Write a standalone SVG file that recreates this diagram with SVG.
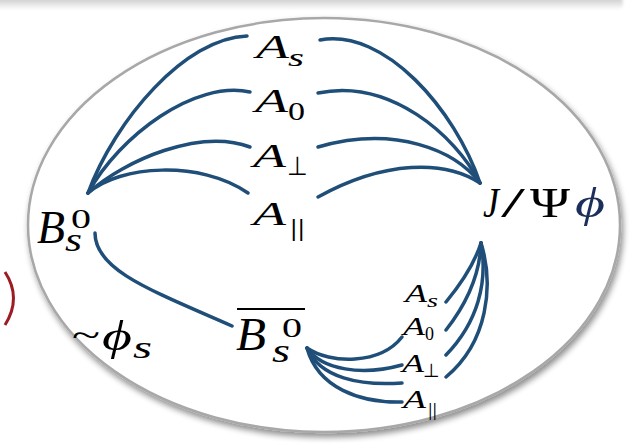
<svg xmlns="http://www.w3.org/2000/svg" width="631" height="443" viewBox="0 0 631 443">
<defs>
<style>
.c{fill:none;stroke:#1f4e79;stroke-width:3.5;stroke-linecap:round}
.m{font-family:"Liberation Serif",serif;fill:#000}
.i{font-style:italic}
</style>
<linearGradient id="band" x1="0" y1="0" x2="0" y2="1">
<stop offset="0" stop-color="#c2c2c2"/>
<stop offset="1" stop-color="#ffffff"/>
</linearGradient>
<filter id="sh" x="-10%" y="-10%" width="120%" height="130%">
<feGaussianBlur in="SourceAlpha" stdDeviation="3"/>
<feOffset dx="2" dy="4" result="b"/>
<feComponentTransfer><feFuncA type="linear" slope="0.45"/></feComponentTransfer>
<feMerge><feMergeNode/><feMergeNode in="SourceGraphic"/></feMerge>
</filter>
<filter id="bl"><feGaussianBlur stdDeviation="1.5"/></filter>
</defs>
<rect width="631" height="443" fill="#fff"/>
<rect x="-5" y="-4" width="628" height="14" rx="6" fill="url(#band)" filter="url(#bl)"/>
<g id="ellipse">
<ellipse cx="324" cy="225" rx="296" ry="207" fill="#fff" stroke="#a8a8a8" stroke-width="2.5" filter="url(#sh)"/>
</g>
<path d="M5,272 Q22,298 5,325" fill="none" stroke="#9b1c24" stroke-width="3"/>
<g id="connectors">
<path class="c" d="M88,193 C115,120 185,38 247,36"/>
<path class="c" d="M88,193 C120,135 195,80 250,92"/>
<path class="c" d="M88,193 C125,160 200,128 250,147"/>
<path class="c" d="M88,193 C120,165 200,160 248,193"/>
<path class="c" d="M320,40 C385,28 455,110 480,183"/>
<path class="c" d="M318,93 C390,78 455,135 480,183"/>
<path class="c" d="M318,147 C395,125 455,150 480,183"/>
<path class="c" d="M318,197 C385,160 445,160 480,183"/>
<path class="c" d="M95,233 C95,270 150,290 232,326"/>
<path class="c" d="M307,348 C330,364 380,365 402,337"/>
<path class="c" d="M307,348 C322,370 362,376 402,365"/>
<path class="c" d="M307,348 C320,378 360,386 402,383"/>
<path class="c" d="M307,348 C318,388 360,403 402,402"/>
<path class="c" d="M446,302 C460,285 475,262 481,243"/>
<path class="c" d="M446,330 C468,302 480,272 481,243"/>
<path class="c" d="M446,355 C478,322 488,282 481,243"/>
<path class="c" d="M446,377 C488,342 494,285 481,243"/>
</g>
<g id="amp-top">
<text class="m i" x="256" y="58" font-size="34" textLength="33" lengthAdjust="spacingAndGlyphs">A</text>
<text class="m i" x="288" y="66" font-size="26" textLength="16" lengthAdjust="spacingAndGlyphs">s</text>
<text class="m i" x="255" y="112" font-size="34" textLength="33" lengthAdjust="spacingAndGlyphs">A</text>
<text class="m" x="288" y="120" font-size="26" textLength="17" lengthAdjust="spacingAndGlyphs">0</text>
<text class="m i" x="253" y="167" font-size="34" textLength="33" lengthAdjust="spacingAndGlyphs">A</text>
<text class="m" x="287" y="175" font-size="26" textLength="21" lengthAdjust="spacingAndGlyphs">⊥</text>
<text class="m i" x="253" y="225" font-size="34" textLength="33" lengthAdjust="spacingAndGlyphs">A</text>
<text class="m" x="290" y="236" font-size="26" textLength="15" lengthAdjust="spacingAndGlyphs">||</text>
</g>
<g id="Bs0">
<text class="m i" x="37" y="243" font-size="46" textLength="28" lengthAdjust="spacingAndGlyphs">B</text>
<text class="m" x="71" y="228" font-size="27" textLength="20" lengthAdjust="spacingAndGlyphs">0</text>
<text class="m i" x="65" y="251" font-size="34" textLength="17" lengthAdjust="spacingAndGlyphs">s</text>
</g>
<g id="JPsiPhi">
<text class="m i" x="483" y="217" font-size="43" textLength="16" lengthAdjust="spacingAndGlyphs">J</text>
<text class="m" x="501" y="217" font-size="43" textLength="24" lengthAdjust="spacingAndGlyphs">/</text>
<text class="m" x="530" y="217" font-size="43" textLength="40" lengthAdjust="spacingAndGlyphs">Ψ</text>
<text class="m i" x="575" y="217" font-size="43" style="fill:#1c2e5a" textLength="30" lengthAdjust="spacingAndGlyphs">ϕ</text>
</g>
<g id="Bsbar">
<text class="m i" x="236" y="350" font-size="46" textLength="30" lengthAdjust="spacingAndGlyphs">B</text>
<text class="m" x="282" y="337" font-size="28" textLength="20" lengthAdjust="spacingAndGlyphs">0</text>
<text class="m i" x="272" y="362" font-size="34" textLength="18" lengthAdjust="spacingAndGlyphs">s</text>
<line x1="237" y1="309" x2="305" y2="309" stroke="#000" stroke-width="2"/>
</g>
<g id="phis">
<text class="m" x="72" y="346" font-size="34" textLength="28" lengthAdjust="spacingAndGlyphs">~</text>
<text class="m i" x="102" y="350" font-size="42" textLength="30" lengthAdjust="spacingAndGlyphs">ϕ</text>
<text class="m i" x="133" y="358" font-size="32" textLength="19" lengthAdjust="spacingAndGlyphs">s</text>
</g>
<g id="amp-bottom">
<text class="m i" x="405" y="302" font-size="25" textLength="22" lengthAdjust="spacingAndGlyphs">A</text>
<text class="m i" x="427" y="307" font-size="19" textLength="11" lengthAdjust="spacingAndGlyphs">s</text>
<text class="m i" x="403" y="335" font-size="25" textLength="22" lengthAdjust="spacingAndGlyphs">A</text>
<text class="m" x="425" y="340" font-size="19" textLength="9" lengthAdjust="spacingAndGlyphs">0</text>
<text class="m i" x="402" y="372" font-size="25" textLength="22" lengthAdjust="spacingAndGlyphs">A</text>
<text class="m" x="423" y="377" font-size="19" textLength="17" lengthAdjust="spacingAndGlyphs">⊥</text>
<text class="m i" x="403" y="408" font-size="25" textLength="23" lengthAdjust="spacingAndGlyphs">A</text>
<text class="m" x="428" y="416" font-size="19" textLength="9" lengthAdjust="spacingAndGlyphs">||</text>
</g>
</svg>
